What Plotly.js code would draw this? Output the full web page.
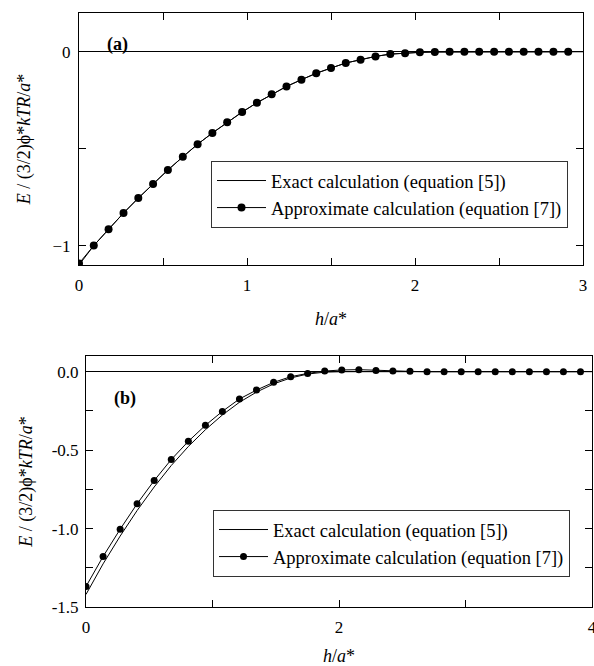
<!DOCTYPE html>
<html>
<head>
<meta charset="utf-8">
<script src="https://cdn.plot.ly/plotly-3.0.1.min.js"></script>
<style>html,body{margin:0;padding:0;background:#fff;}#chart{width:594px;height:666px;}</style>
</head>
<body>
<div id="chart"></div>
<script>
// Panel (a)
const topX = [0, 0.088, 0.176, 0.265, 0.353, 0.441, 0.529, 0.618, 0.706, 0.794, 0.882, 0.971, 1.059, 1.147, 1.235, 1.324, 1.412, 1.5, 1.588, 1.676, 1.765, 1.853, 1.941, 2.029, 2.118, 2.206, 2.294, 2.382, 2.471, 2.559, 2.647, 2.735, 2.824, 2.912];
const topApprox = [-1.092, -1.0, -0.916, -0.832, -0.755, -0.682, -0.610, -0.542, -0.477, -0.419, -0.364, -0.311, -0.263, -0.219, -0.179, -0.144, -0.111, -0.084, -0.058, -0.041, -0.024, -0.012, -0.007, -0.003, -0.001, 0, 0, 0, 0, 0, 0, 0, 0, 0];
const topExactX = [0, 0.088, 0.176, 0.265, 0.353, 0.441, 0.529, 0.618, 0.706, 0.794, 0.882, 0.971, 1.059, 1.147, 1.235, 1.324, 1.412, 1.5, 1.588, 1.676, 1.765, 1.853, 1.941, 2.029, 2.118, 3.0];
const topExact = [-1.1, -1.0, -0.916, -0.832, -0.755, -0.682, -0.610, -0.542, -0.477, -0.419, -0.364, -0.311, -0.263, -0.219, -0.179, -0.144, -0.111, -0.084, -0.058, -0.041, -0.024, -0.012, -0.007, -0.003, -0.001, 0];

// Panel (b)
const botX = [0, 0.135, 0.27, 0.404, 0.539, 0.674, 0.809, 0.944, 1.078, 1.213, 1.348, 1.483, 1.618, 1.752, 1.887, 2.022, 2.157, 2.292, 2.426, 2.561, 2.696, 2.831, 2.966, 3.1, 3.235, 3.37, 3.505, 3.64, 3.774, 3.909];
const botApprox = [-1.369, -1.178, -1.004, -0.842, -0.694, -0.560, -0.444, -0.342, -0.253, -0.174, -0.117, -0.068, -0.032, -0.011, 0.004, 0.011, 0.013, 0.008, 0.004, 0.002, 0, -0.001, 0, 0, 0, 0, 0, 0, 0, 0];
const botExactX = [0, 0.135, 0.27, 0.404, 0.539, 0.674, 0.809, 0.944, 1.078, 1.213, 1.348, 1.483, 1.618, 1.752, 1.887, 2.022, 4.0];
const botExact = [-1.42, -1.225, -1.048, -0.885, -0.735, -0.598, -0.477, -0.370, -0.276, -0.195, -0.130, -0.078, -0.040, -0.015, -0.003, 0, 0];

const exactName = 'Exact calculation (equation [5])';
const approxName = 'Approximate calculation (equation [7])';
const yTitle = '<i>E</i> / (3/2)ϕ*<i>kTR</i>/<i>a</i>*';
const xTitle = '<i>h</i>/<i>a</i>*';

const FONT = 'Liberation Serif';
const TICK = 17, TITLE = 18, LEG = 18.5;

const traces = [
  {x: topExactX, y: topExact, mode: 'lines', name: exactName, line: {color: '#000', width: 1}, xaxis: 'x', yaxis: 'y', legend: 'legend'},
  {x: topX, y: topApprox, mode: 'lines+markers', name: approxName, line: {color: '#000', width: 1}, marker: {color: '#000', size: 8}, xaxis: 'x', yaxis: 'y', legend: 'legend'},
  {x: botExactX, y: botExact, mode: 'lines', name: exactName, line: {color: '#000', width: 1}, xaxis: 'x2', yaxis: 'y2', legend: 'legend2'},
  {x: botX, y: botApprox, mode: 'lines+markers', name: approxName, line: {color: '#000', width: 1}, marker: {color: '#000', size: 7}, xaxis: 'x2', yaxis: 'y2', legend: 'legend2'}
];

const axBase = {
  showline: true, linecolor: '#000', linewidth: 1, mirror: 'ticks',
  ticks: 'inside', ticklen: 7, tickcolor: '#000', tickwidth: 1,
  showgrid: false, tickfont: {family: FONT, size: TICK, color: '#000'},
  automargin: false, ticklabeloverflow: 'allow'
};

const legBase = {
  bordercolor: '#333', borderwidth: 1, bgcolor: '#fff',
  font: {family: FONT, size: LEG, color: '#000'},
  xanchor: 'left', yanchor: 'top', tracegroupgap: 0, itemwidth: 49
};

const layout = {
  width: 594, height: 666,
  margin: {l: 0, r: 0, t: 0, b: 0},
  paper_bgcolor: '#fff', plot_bgcolor: '#fff',
  font: {family: FONT, size: 16, color: '#000'},
  showlegend: true,
  xaxis: Object.assign({}, axBase, {
    domain: [79/594, 583/594], range: [0, 3], tickvals: [0, 1, 2, 3], ticklabelstandoff: 5,
    minor: {tickvals: [0.5, 1.5, 2.5], ticks: 'inside', ticklen: 7, tickcolor: '#000'},
    zeroline: false, anchor: 'y',
    title: {text: xTitle, font: {family: FONT, size: TITLE}, standoff: 17}
  }),
  yaxis: Object.assign({}, axBase, {
    domain: [(666-265)/666, (666-13)/666], range: [-1.1, 0.2], tickvals: [-1, 0], ticklabelstandoff: 4,
    minor: {tickvals: [-0.5], ticks: 'inside', ticklen: 7, tickcolor: '#000'},
    zeroline: true, zerolinecolor: '#000', zerolinewidth: 1, anchor: 'x',
    title: {text: yTitle, font: {family: FONT, size: TITLE}, standoff: 17}
  }),
  xaxis2: Object.assign({}, axBase, {
    domain: [86/594, 592/594], range: [0, 4], tickvals: [0, 2, 4], ticklabelstandoff: 5,
    minor: {tickvals: [1, 3], ticks: 'inside', ticklen: 7, tickcolor: '#000'},
    zeroline: false, anchor: 'y2',
    title: {text: xTitle, font: {family: FONT, size: TITLE}, standoff: 20}
  }),
  yaxis2: Object.assign({}, axBase, {
    domain: [(666-607)/666, (666-356)/666], range: [-1.5, 0.1], tickvals: [-1.5, -1.0, -0.5, 0.0], ticklabelstandoff: 3,
    ticktext: ['-1.5', '-1.0', '-0.5', '0.0'],
    minor: {tickvals: [-1.25, -0.75, -0.25], ticks: 'inside', ticklen: 7, tickcolor: '#000'},
    zeroline: true, zerolinecolor: '#000', zerolinewidth: 1, anchor: 'x2',
    title: {text: yTitle, font: {family: FONT, size: TITLE}, standoff: 14}
  }),
  legend: Object.assign({}, legBase, {x: 211/594, y: (666-161)/666}),
  legend2: Object.assign({}, legBase, {x: 213/594, y: (666-510)/666}),
  annotations: [
    {text: '<b>(a)</b>', xref: 'paper', yref: 'paper', x: 105/594, y: (666-32)/666, showarrow: false, font: {family: FONT, size: 18, color: '#000'}},
    {text: '<b>(b)</b>', xref: 'paper', yref: 'paper', x: 112/594, y: (666-398)/666, showarrow: false, font: {family: FONT, size: 18, color: '#000'}}
  ]
};

Plotly.newPlot('chart', traces, layout, {displayModeBar: false, staticPlot: true});
</script>
</body>
</html>
